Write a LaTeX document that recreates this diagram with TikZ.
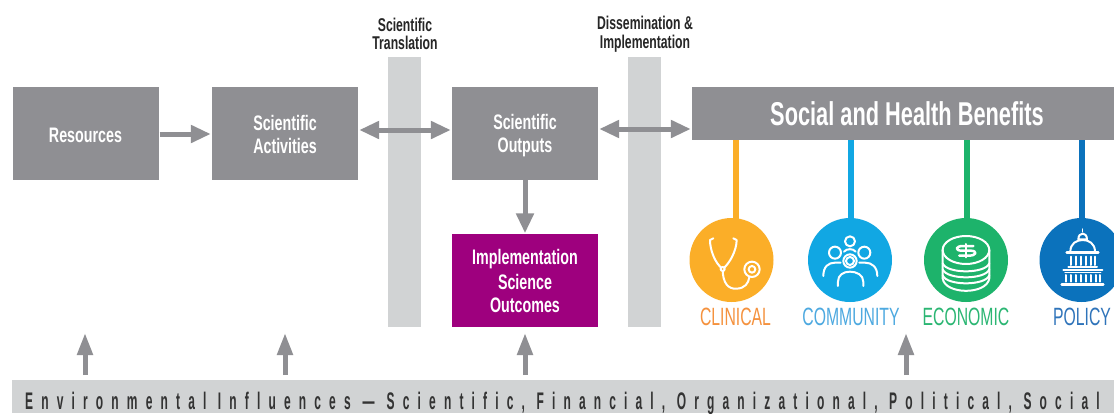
\documentclass[tikz,border=0pt]{standalone}
\usepackage{fontspec}
\usetikzlibrary{arrows.meta}
\setmainfont{Liberation Sans}
\newfontfamily\condreg[FakeStretch=0.63]{Liberation Sans}
\newfontfamily\condbold[FakeStretch=0.68]{Liberation Sans Bold}
\newfontfamily\condtop[FakeStretch=0.66]{Liberation Sans Bold}
\newfontfamily\condspaced[FakeStretch=0.5,LetterSpace=34]{Liberation Sans Bold}
\newcommand{\bxs}{\rule[-3pt]{0pt}{23pt}}
\definecolor{boxgray}{HTML}{8F8F93}
\definecolor{lightgray}{HTML}{D1D3D4}
\definecolor{purp}{HTML}{9E007E}
\definecolor{corange}{HTML}{FBAE28}
\definecolor{cblue}{HTML}{11A7E3}
\definecolor{cgreen}{HTML}{1DB36B}
\definecolor{cdark}{HTML}{0B72BC}
\definecolor{torange}{HTML}{F5923E}
\definecolor{tblue}{HTML}{4DA9E0}
\definecolor{tgreen}{HTML}{2BB673}
\definecolor{tdark}{HTML}{2F74BA}
\tikzset{
  gbox/.style={fill=boxgray,text=white,font=\condbold\fontsize{21}{23}\selectfont,align=center,inner sep=0pt,minimum width=146pt,minimum height=93pt},
  barbox/.style={fill=lightgray,inner sep=0pt,minimum width=33pt,minimum height=270pt},
  toplabel/.style={font=\condtop\fontsize{18.5}{18.5}\selectfont,align=center,text=black!85,inner sep=0pt},
  catlabel/.style={font=\condreg\fontsize{25}{25}\selectfont,inner sep=0pt},
  disc/.style={circle,inner sep=0pt,minimum size=84pt},
  arr/.style={draw=boxgray,line width=5pt,-{Triangle[length=20pt,width=17pt]},shorten >=1pt,shorten <=1pt},
  darr/.style={draw=boxgray,line width=5pt,{Triangle[length=20pt,width=17pt]}-{Triangle[length=20pt,width=17pt]},shorten >=1pt,shorten <=1pt},
  uarr/.style={draw=boxgray,line width=5pt,-{Triangle[length=22pt,width=15pt]}},
  stem/.style={line width=6pt},
  ico/.style={draw=white,line width=2pt,line cap=round,line join=round},
}
\begin{document}
\begin{tikzpicture}[x=1pt,y=-1pt]
\useasboundingbox (0,0) rectangle (1114,413);
\clip (0,0) rectangle (1114,413);
\fill[white] (0,0) rectangle (1114,413);
% vertical bars
\node[barbox] (barA) at (404.5,192) {};
\node[barbox] (barB) at (644.5,192) {};
% boxes
\node[gbox] (res) at (85.5,133.5) {\bxs Resources};
\node[gbox] (act) at (285,133.5) {\bxs Scientific\\\bxs Activities};
\node[gbox] (out) at (525,133.5) {\bxs Scientific\\\bxs Outputs};
\node[gbox,fill=purp] (impl) at (525,280) {\bxs Implementation\\\bxs Science\\\bxs Outcomes};
\node[fill=boxgray,text=white,inner sep=0pt,minimum width=422pt,minimum height=53pt,font=\condtop\fontsize{33}{33}\selectfont] (soc) at (903,113.5) {\hspace*{8pt}Social and Health Benefits};
\node[fill=lightgray,inner sep=0pt,minimum width=1102pt,minimum height=33pt] (env) at (563,396.5) {};
\node[anchor=base west,inner sep=0pt,text=black!80,font=\condspaced\fontsize{24}{24}\selectfont] (envtext) at (25,409) {Environmental Influences\kern12pt—\kern12pt Scientific, Financial, Organizational, Political, Social};
% top labels
\node[toplabel] (lblA) at (405,34) {Scientific\\Translation};
\node[toplabel] (lblB) at (645,34) {Dissemination \&\\Implementation};
% discs
\node[disc,fill=corange] (d1) at (731.5,260) {};
\node[disc,fill=cblue] (d2) at (850,260) {};
\node[disc,fill=cgreen] (d3) at (966,260) {};
\node[disc,fill=cdark] (d4) at (1081.5,260) {};
% stems
\coordinate (s1) at (735.5,140);\coordinate (e1) at (735.5,219);
\coordinate (s2) at (850.5,140);\coordinate (e2) at (850.5,219);
\coordinate (s3) at (966.5,140);\coordinate (e3) at (966.5,219);
\coordinate (s4) at (1082,140);\coordinate (e4) at (1082,219);
\draw[stem,corange] (s1) -- (e1);
\draw[stem,cblue] (s2) -- (e2);
\draw[stem,cgreen] (s3) -- (e3);
\draw[stem,cdark] (s4) -- (e4);
% cat labels
\node[catlabel,text=torange] (c1) at (735.5,317) {CLINICAL};
\node[catlabel,text=tblue] (c2) at (851,317) {COMMUNITY};
\node[catlabel,text=tgreen] (c3) at (966,317) {ECONOMIC};
\node[catlabel,text=tdark] (c4) at (1082,317) {POLICY};
% connectors
\draw[arr] (res.east |- 0,134) -- (act.west |- 0,134);
\draw[darr] (act.east |- 0,130) -- (out.west |- 0,130);
\draw[darr] (out.east |- 0,129) -- (soc.west |- 0,129);
\draw[arr,shorten >=0pt,shorten <=0pt] (out.south) -- (impl.north);
% up arrows
\coordinate (u1) at (85,333);\coordinate (u2) at (285,333);\coordinate (u3) at (525,333);\coordinate (u4) at (906,333);
\draw[uarr] (u1 |- 0,375) -- (u1);
\draw[uarr] (u2 |- 0,375) -- (u2);
\draw[uarr] (u3 |- 0,375) -- (u3);
\draw[uarr] (u4 |- 0,375) -- (u4);
% icons in zoom coords
\begin{scope}[shift={(680,200)},x=0.3333pt,y=-0.3333pt]
% stethoscope
\draw[ico] (100,115) -- (90,120) .. controls (90,150) and (105,190) .. (128,207);
\draw[ico] (160,115) -- (170,120) .. controls (170,150) and (150,190) .. (128,207);
\draw[ico] (128,207) .. controls (128,250) and (145,268) .. (170,266) .. controls (195,265) and (205,250) .. (208,232);
\draw[ico,fill=corange] (128,207) circle (6);
\draw[ico] (216,208) circle (23);
\draw[ico] (216,208) circle (10);
% community
\draw[ico] (510,124) circle (15);
\draw[ico] (465,158) circle (18);
\draw[ico] (553,158) circle (18);
\draw[ico] (492,155) .. controls (500,145) and (520,145) .. (527,155);
\draw[ico] (430,228) .. controls (430,200) and (445,188) .. (465,188) -- (482,188);
\draw[ico] (592,228) .. controls (592,200) and (575,188) .. (555,188) -- (538,188);
\draw[ico] (510,183) circle (20);
\draw[ico] (510,183) circle (12);
\draw[ico] (474,258) -- (474,245) .. controls (474,225) and (490,215) .. (510,215) .. controls (530,215) and (550,225) .. (550,245) -- (550,258);
% coins
\draw[ico] (858,150) ellipse (70 and 42);
\draw[ico] (788,150) -- (788,235) .. controls (795,285) and (921,285) .. (928,235) -- (928,150);
\draw[ico] (788,190) .. controls (800,222) and (916,222) .. (928,190);
\draw[ico] (788,208) .. controls (800,240) and (916,240) .. (928,208);
\draw[ico] (788,226) .. controls (800,258) and (916,258) .. (928,226);
\draw[ico,line width=2.5pt] (880,138) -- (850,138) .. controls (825,138) and (825,152) .. (845,152) -- (872,152) .. controls (892,152) and (892,167) .. (866,167) -- (838,167);
\draw[ico,line width=2pt] (858,132) -- (858,172);
\end{scope}
% capitol
\begin{scope}[shift={(1035,215)},x=0.3333pt,y=-0.3333pt]
\draw[ico,line width=1.5pt] (143,42) -- (143,50);
\draw[ico] (130,73) .. controls (130,50) and (156,50) .. (156,73) -- cycle;
\draw[ico] (106,110) .. controls (106,85) and (125,75) .. (143,75) .. controls (161,75) and (180,85) .. (180,110);
\draw[ico,line width=2.5pt] (95,113) -- (190,113);
\foreach \cx in {107,122,137,152,167,180}{\draw[ico] (\cx,125) -- (\cx,150);}
\draw[ico] (100,156) -- (186,156);
\draw[ico] (85,165) -- (202,165);
\draw[ico,line width=1.5pt] (90,172) -- (197,172);
\foreach \cx in {92,107,122,137,152,167,182,195}{\draw[ico] (\cx,180) -- (\cx,200);}
\draw[ico,line width=2.5pt] (80,208) -- (205,208);
\end{scope}
\end{tikzpicture}
\end{document}
